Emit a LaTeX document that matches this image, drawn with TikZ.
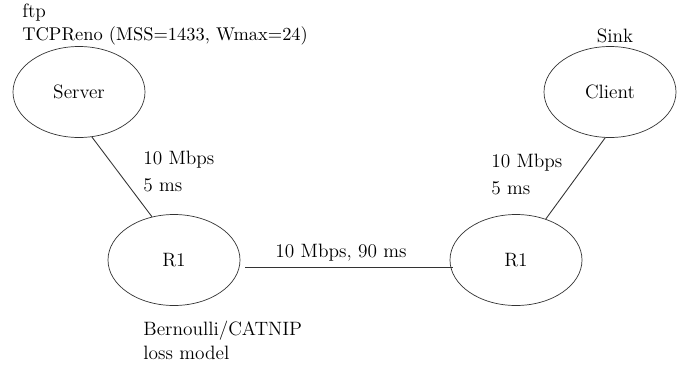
\documentclass[tikz,border=0pt]{standalone}
\usetikzlibrary{shapes.geometric, calc}

\begin{document}
\begin{tikzpicture}[
  every node/.style={font=\fontsize{11}{13}\selectfont},
  netnode/.style={draw=black!80, ellipse, minimum width=2.64cm, minimum height=1.82cm, inner sep=0pt},
  lbl/.style={anchor=west, inner sep=0pt},
  link/.style={draw=black!80, line width=0.5pt}]
  \useasboundingbox (0,0) rectangle (13.78,7.32);
  % Hosts and routers
  \node[netnode] (srv) at (1.58,5.48) {Server};
  \node[netnode] (cli) at (12.20,5.48) {Client};
  \node[netnode] (r1a) at (3.48,2.12) {R1};
  \node[netnode] (r1b) at (10.32,2.12) {R1};
  % Top labels
  \node[lbl] (ftp) at (0.44,7.06) {ftp};
  \node[lbl, font=\fontsize{10.5}{12}\selectfont] (tcp) at (0.44,6.60) {TCPReno (MSS=1433, Wmax=24)};
  \node (sink) at (12.30,6.60) {Sink};
  % Access link labels
  \foreach \nm/\x/\y in {acl/2.86/4.12, acr/9.82/4.06} {
    \node[lbl] (\nm-bw) at (\x,\y) {10 Mbps};
    \node[lbl] (\nm-dl) at (\x,\y-0.50) {5 ms};
  }
  % Bottleneck
  \node (bneck) at (6.82,2.26) {10 Mbps, 90 ms};
  \node[lbl] (loss1) at (2.86,0.70) {Bernoulli/CATNIP};
  \node[lbl] (loss2) at (2.86,0.26) {loss model};
  % Links
  \draw[link] (srv.-74) -- (r1a.117);
  \draw[link] (cli.-96) -- (r1b.54);
  \draw[link] ($(r1a.east)+(0.1,-0.14)$) -- ($(r1b.west)+(0.06,-0.14)$);
\end{tikzpicture}
\end{document}
